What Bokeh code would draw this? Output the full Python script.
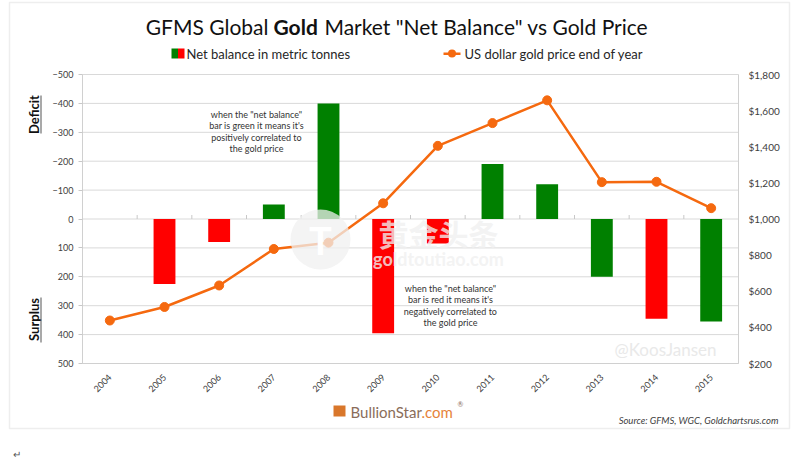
import math
from bokeh.plotting import figure
from bokeh.models import (Range1d, LinearAxis, Label, BoxAnnotation,
                          NumeralTickFormatter, FixedTicker, ColumnDataSource)
from bokeh.embed import file_html
from bokeh.resources import INLINE

# ---------------- data ----------------
years = ["2004", "2005", "2006", "2007", "2008", "2009", "2010",
         "2011", "2012", "2013", "2014", "2015"]
net_balance = [0, 225, 80, -50, -400, 395, 85, -190, -120, 200, 345, 355]
bar_colors = ["#008000", "#ff0000", "#ff0000", "#008000", "#008000", "#ff0000",
              "#ff0000", "#008000", "#008000", "#008000", "#ff0000", "#008000"]
gold_price = [438, 513, 632, 834, 869, 1087, 1405, 1531, 1657, 1204, 1206, 1060]
left_ticks = [-500, -400, -300, -200, -100, 0, 100, 200, 300, 400, 500]
right_ticks = [200, 400, 600, 800, 1000, 1200, 1400, 1600, 1800]

FONT = "Lato"
TXT = "#404040"
GRID = "#d9d9d9"
ORANGE = "#f5690f"

# canvas / chart-area geometry (pixels)
W, H = 791, 458
CL, CT, CR, CB = 82, 74, 738, 363
n = len(years)
cat_px = (CR - CL) / n
L_MIN, L_MAX = left_ticks[0], left_ticks[-1]
R_MIN, R_MAX = right_ticks[0], right_ticks[-1]
lpp = (L_MAX - L_MIN) / (CB - CT)
rpp = (R_MAX - R_MIN) / (CB - CT)

p = figure(width=W, height=H, output_backend="svg", toolbar_location=None,
           x_range=Range1d(-CL / cat_px, n + (W - CR) / cat_px),
           y_range=Range1d(L_MAX + (H - CB) * lpp, L_MIN - CT * lpp),
           min_border=0)
p.extra_y_ranges = {"price": Range1d(R_MIN - (H - CB) * rpp, R_MAX + CT * rpp)}
p.outline_line_color = None
p.background_fill_color = "white"
p.border_fill_color = "white"
p.xgrid.visible = False
p.ygrid.visible = False

xpos = [i + 0.5 for i in range(n)]
src = ColumnDataSource(dict(x=xpos, nb=net_balance, col=bar_colors, price=gold_price))

# gridlines of the chart area
p.segment(x0=0, x1=n, y0=left_ticks, y1=left_ticks, line_color=GRID, line_width=1)
# category boundary ticks on the zero line
bounds_x = list(range(1, n))
p.segment(x0=bounds_x, x1=bounds_x, y0=0, y1=-4 * lpp, line_color="#c8c8c8", line_width=1)

p.vbar(x="x", top="nb", bottom=0, width=0.4, fill_color="col", line_color=None, source=src)
p.line(x="x", y="price", y_range_name="price", line_color=ORANGE, line_width=2.5, source=src)
p.scatter(x="x", y="price", y_range_name="price", size=9, fill_color=ORANGE,
          line_color=ORANGE, source=src)

# left axis
ya = p.yaxis[0]
ya.fixed_location = 0
ya.bounds = (L_MIN, L_MAX)
ya.ticker = FixedTicker(ticks=left_ticks)
ya.axis_line_color = "#d0d0d0"
ya.major_tick_line_color = "#c8c8c8"
ya.major_tick_out = 4
ya.major_tick_in = 0
ya.minor_tick_line_color = None
ya.major_label_text_font = FONT
ya.major_label_text_font_size = "9px"
ya.major_label_text_color = TXT
ya.major_label_standoff = 5

# right axis
ra = LinearAxis(y_range_name="price", ticker=FixedTicker(ticks=right_ticks),
                formatter=NumeralTickFormatter(format="$0,0"))
ra.fixed_location = n
ra.bounds = (R_MIN, R_MAX)
ra.axis_line_color = "#d0d0d0"
ra.major_tick_line_color = None
ra.minor_tick_line_color = None
ra.major_label_text_font = FONT
ra.major_label_text_font_size = "10px"
ra.major_label_text_color = TXT
ra.major_label_standoff = 4
p.add_layout(ra, "right")

# bottom axis
xa = p.xaxis[0]
xa.fixed_location = L_MAX
xa.bounds = (0, n)
xa.ticker = FixedTicker(ticks=xpos)
xa.major_label_overrides = {x: y for x, y in zip(xpos, years)}
xa.axis_line_color = "#d0d0d0"
xa.major_tick_line_color = None
xa.minor_tick_line_color = None
xa.major_label_orientation = math.pi / 4
xa.major_label_text_font = FONT
xa.major_label_text_font_size = "9px"
xa.major_label_text_color = TXT
xa.major_label_standoff = 6


def lab(px, py, text, size, color=TXT, align="left", style="normal", angle=0.0,
        alpha=1.0, font=FONT, lh=1.2):
    p.add_layout(Label(x=px, y=H - py, x_units="screen", y_units="screen",
                       text=text, text_font=font, text_font_size=f"{size}px",
                       text_color=color, text_align=align, text_baseline="middle",
                       text_font_style=style, angle=angle, text_alpha=alpha,
                       text_line_height=lh))


def box(x0, y0, x1, y1, color, alpha=1.0, radius=0, line=None, fill=True):
    p.add_layout(BoxAnnotation(left=x0, right=x1, top=y0, bottom=y1,
                               left_units="canvas", right_units="canvas",
                               top_units="canvas", bottom_units="canvas",
                               fill_color=color, fill_alpha=alpha if fill else 0,
                               line_color=line, line_width=1.5,
                               border_radius=radius))


# outer border
box(9, 2, 789, 428, "white", fill=False, line="#c8c8c8")

# title
lab(268, 26, "GFMS Global", 21, color="#111111", align="right")
lab(273, 26, "Gold", 21, color="#111111", style="bold")
lab(324, 26, "Market \"Net Balance\" vs Gold Price", 21, color="#111111")

# legend
box(171, 48, 177.5, 58, "#008000")
box(177.5, 48, 184, 58, "#ff0000")
lab(186, 53, "Net balance in metric tonnes", 13, color="#262626")
box(443, 52, 460, 54.5, ORANGE)
box(447.5, 49, 455.5, 57, ORANGE, radius=4)
lab(464, 53, "US dollar gold price end of year", 13, color="#262626")

# side labels
lab(33, 114, "Deficit", 13, color="#111111", align="center", style="bold", angle=math.pi / 2)
box(40, 95, 41, 133, "#555555")
lab(33, 319, "Surplus", 13, color="#111111", align="center", style="bold", angle=math.pi / 2)
box(40, 297, 41, 342, "#555555")

# annotations
lab(256, 131, "when the \"net balance\"\nbar is green it means it's\npositively correlated to\nthe gold price",
    9, color="#333333", align="center", lh=1.06)
lab(450, 305, "when the \"net balance\"\nbar is red it means it's\nnegatively correlated to\nthe gold price",
    9, color="#333333", align="center", lh=1.06)

# watermarks
lab(665, 349, "@KoosJansen", 17, color="#e9e9e9", align="center")
box(290, 209, 350, 269, "#f0f0f0", alpha=0.75, radius=30)
lab(320, 239, "T", 38, color="white", align="center", style="bold")
lab(438, 232, "黄金头条", 30, color="#f0f0f0", align="center", style="bold",
    alpha=0.8, font="Noto Sans CJK SC")
lab(438, 258, "goldtoutiao.com", 18, color="#f0f0f0", align="center", style="bold", alpha=0.8)

# footer
box(333, 405, 345, 416, "#d9772b")
lab(350, 411, "BullionStar", 15, color="#8a6d5a")
lab(421, 411, ".com", 15, color="#e6823a")
lab(457, 403, "®", 7, color="#8a6d5a")
lab(778, 420, "Source: GFMS, WGC, Goldchartsrus.com", 9.5, color=TXT, align="right", style="italic")
lab(12, 453, "↵", 10, color="#555555")

open("out.html", "w").write(file_html(p, INLINE))
